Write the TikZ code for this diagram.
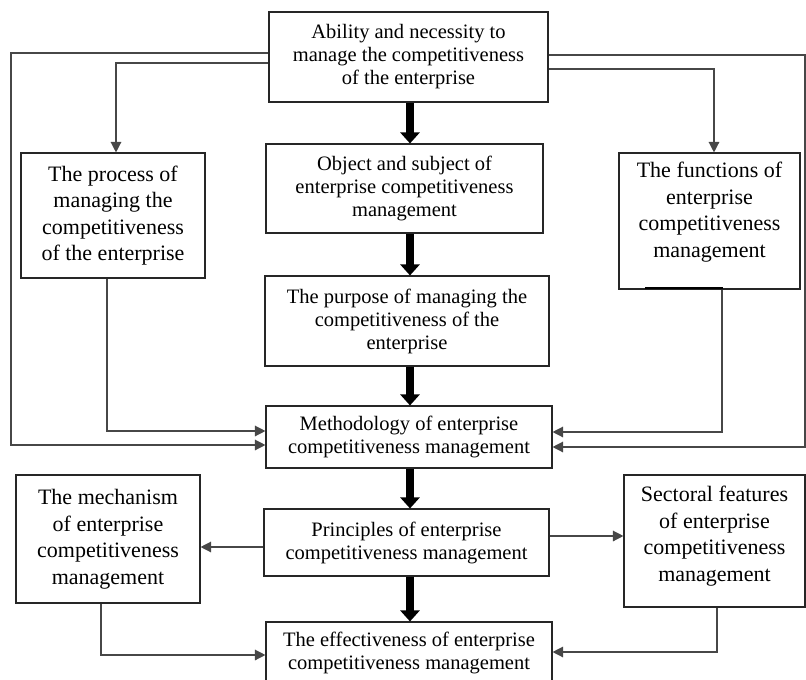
\documentclass[tikz,border=0pt]{standalone}
\usepackage{fontspec}
\setmainfont{Liberation Serif}
\usetikzlibrary{arrows.meta}
\tikzset{
  box/.style n args={2}{draw=black!85, line width=1.1pt, align=center, inner sep=0pt,
    minimum width=#1pt, minimum height=#2pt},
  cfont/.style={font=\fontsize{20.5}{23}\selectfont},
  sfont/.style={font=\fontsize{22}{26.5}\selectfont},
  conn/.style={draw=black!72, line width=1.3pt, -{Triangle[width=10.5pt,length=10.5pt]}},
  bigarrow/.style={draw=black, line width=8pt, -{Triangle[width=19pt,length=11pt]}},
}
\begin{document}
\begin{tikzpicture}[x=1pt,y=1pt]
\useasboundingbox (0,0) rectangle (806,-680);
\coordinate (mid) at (410,0);

\node[box={279}{90}, cfont] (top) at (408.5,-57) {Ability and necessity to\\manage the competitiveness\\of the enterprise};
\node[box={184}{125}, sfont] (process) at (113,-215.5) {The process of\\managing the\\competitiveness\\of the enterprise};
\node[box={181}{136}] (functions) at (709.5,-221) {};
\node[sfont, align=center, inner sep=0pt] (functionstext) at (709.5,-212) {The functions of\\enterprise\\competitiveness\\management};
\node[box={277}{89}, cfont] (object) at (404.5,-188.5) {Object and subject of\\enterprise competitiveness\\management};
\node[box={284}{90}, cfont] (purpose) at (407,-321) {The purpose of managing the\\competitiveness of the\\enterprise};
\node[box={286}{62}, cfont] (meth) at (409,-437) {Methodology of enterprise\\competitiveness management};
\node[box={285}{67}, cfont] (principles) at (406.5,-542.5) {Principles of enterprise\\competitiveness management};
\node[box={184}{128}, sfont] (mechanism) at (108,-539) {The mechanism\\of enterprise\\competitiveness\\management};
\node[box={181}{132}] (sectoral) at (714.5,-541) {};
\node[sfont, align=center, inner sep=0pt] (sectoraltext) at (714.5,-536) {Sectoral features\\of enterprise\\competitiveness\\management};
\node[box={286}{68}] (eff) at (409,-656) {};
\node[cfont, align=center, inner sep=0pt] (efftext) at (409,-653) {The effectiveness of enterprise\\competitiveness management};

% thick arrows
\draw[bigarrow] (top.south -| mid) -- (object.north -| mid);
\draw[bigarrow] (object.south -| mid) -- (purpose.north -| mid);
\draw[bigarrow] (purpose.south -| mid) -- (meth.north -| mid);
\draw[bigarrow] (meth.south -| mid) -- (principles.north -| mid);
\draw[bigarrow] (principles.south -| mid) -- (eff.north -| mid);

% thin connectors
\draw[conn] ([yshift=4]top.west) -- (11,-53) |- ([yshift=-8]meth.west);
\draw[conn] ([yshift=-6]top.west) -| ([xshift=3]process.north);
\draw[conn] ([yshift=2]top.east) -- (805,-55) |- ([yshift=-10]meth.east);
\draw[conn] ([yshift=-12]top.east) -| ([xshift=4.5]functions.north);
\draw[conn] ([xshift=-6]process.south) |- ([yshift=6]meth.west);
\draw[conn] ([xshift=12.5]functions.south) |- ([yshift=5]meth.east);
\draw[conn] ([yshift=-4.5]principles.west) -- ([yshift=-4.5]principles.west -| mechanism.east);
\draw[conn] ([yshift=6.5]principles.east) -- ([yshift=6.5]principles.east -| sectoral.west);
\draw[conn] ([xshift=-7]mechanism.south) |- ([yshift=1]eff.west);
\draw[conn] ([xshift=2.5]sectoral.south) |- ([yshift=4]eff.east);

% thick mark on bottom edge of functions box
\draw[line width=2.5pt] ([xshift=-64.5,yshift=1.5]functions.south) -- ([xshift=13.5,yshift=1.5]functions.south);
\end{tikzpicture}
\end{document}
